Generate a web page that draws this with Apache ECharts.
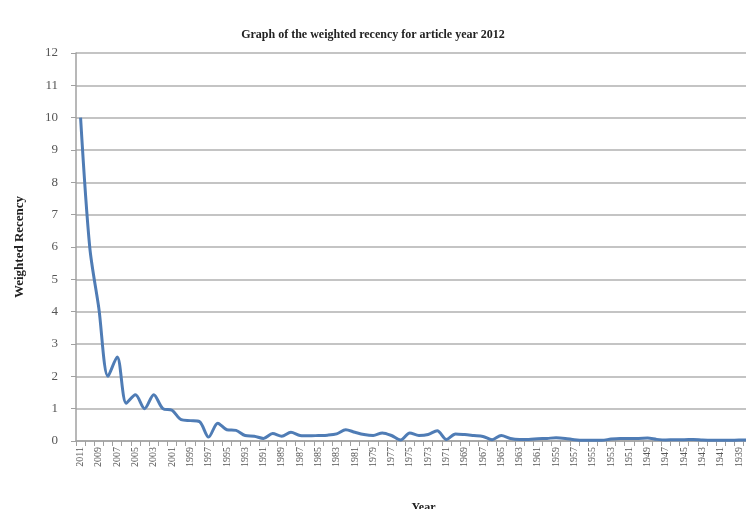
<!DOCTYPE html>
<html>
<head>
<meta charset="utf-8">
<script src="https://cdn.jsdelivr.net/npm/echarts@6/dist/echarts.min.js"></script>
<style>
  html, body { margin: 0; padding: 0; background: #fff; }
  #chart { width: 746px; height: 509px; }
</style>
</head>
<body>
<div id="chart"></div>
<script>
// years, newest first (axis runs off the right edge like the original)
const years = [
  "2011", "2010", "2009", "2008", "2007", "2006", "2005", "2004", "2003", "2002",
  "2001", "2000", "1999", "1998", "1997", "1996", "1995", "1994", "1993", "1992",
  "1991", "1990", "1989", "1988", "1987", "1986", "1985", "1984", "1983", "1982",
  "1981", "1980", "1979", "1978", "1977", "1976", "1975", "1974", "1973", "1972",
  "1971", "1970", "1969", "1968", "1967", "1966", "1965", "1964", "1963", "1962",
  "1961", "1960", "1959", "1958", "1957", "1956", "1955", "1954", "1953", "1952",
  "1951", "1950", "1949", "1948", "1947", "1946", "1945", "1944", "1943", "1942",
  "1941", "1940", "1939", "1938", "1937", "1936"
];

const recency = [
  10.0, 6.0, 4.1, 2.0, 2.6, 1.17, 1.43, 1.0, 1.43, 1.0,
  0.95, 0.66, 0.63, 0.6, 0.12, 0.55, 0.35, 0.33, 0.17, 0.15,
  0.08, 0.23, 0.15, 0.27, 0.17, 0.16, 0.17, 0.18, 0.22, 0.35,
  0.27, 0.2, 0.17, 0.25, 0.17, 0.03, 0.25, 0.17, 0.2, 0.32,
  0.05, 0.22, 0.2, 0.17, 0.14, 0.04, 0.17, 0.08, 0.05, 0.05,
  0.07, 0.08, 0.1, 0.08, 0.04, 0.02, 0.02, 0.02, 0.06, 0.08,
  0.08, 0.08, 0.09, 0.05, 0.03, 0.04, 0.04, 0.05, 0.03, 0.02,
  0.02, 0.02, 0.03, 0.03, 0.03, 0.03
];

const serif = "'Liberation Serif', 'DejaVu Serif', serif";

const chart = echarts.init(document.getElementById("chart"));

chart.setOption({
  backgroundColor: "#fff",
  animation: false,
  title: {
    text: "Graph of the weighted recency for article year 2012",
    left: "center",
    top: 24,
    textStyle: {
      fontFamily: serif,
      fontSize: 12,
      fontWeight: "bold",
      color: "#222"
    }
  },
  grid: {
    left: 76,
    top: 53,
    width: 695,
    height: 388,
    containLabel: false,
    outerBoundsMode: "none"
  },
  xAxis: {
    type: "category",
    data: years,
    boundaryGap: true,
    name: "Year",
    nameLocation: "middle",
    nameGap: 61,
    nameTextStyle: {
      fontFamily: serif,
      fontSize: 12,
      fontWeight: "bold",
      color: "#222"
    },
    axisLine: { lineStyle: { color: "#a0a0a0", width: 1.5 } },
    axisTick: {
      show: true,
      interval: 0,
      alignWithLabel: false,
      length: 5,
      lineStyle: { color: "#a0a0a0" }
    },
    axisLabel: {
      interval: 1,
      rotate: 90,
      margin: 6,
      fontFamily: serif,
      fontSize: 10,
      color: "#555"
    },
    splitLine: { show: false }
  },
  yAxis: {
    type: "value",
    min: 0,
    max: 12,
    interval: 1,
    name: "Weighted Recency",
    nameLocation: "middle",
    nameGap: 50,
    nameTextStyle: {
      fontFamily: serif,
      fontSize: 13,
      fontWeight: "bold",
      color: "#222"
    },
    axisLine: { show: true, lineStyle: { color: "#a0a0a0", width: 1.5 } },
    axisTick: { show: true, length: 5, lineStyle: { color: "#a0a0a0" } },
    axisLabel: {
      margin: 18,
      fontFamily: serif,
      fontSize: 13,
      color: "#555"
    },
    splitLine: { show: true, lineStyle: { color: "#b0b0b0", width: 1.5 } }
  },
  series: [
    {
      type: "line",
      data: recency,
      smooth: 0.3,
      symbol: "none",
      lineStyle: { color: "#4F7CB5", width: 3 }
    }
  ]
});
</script>
</body>
</html>
